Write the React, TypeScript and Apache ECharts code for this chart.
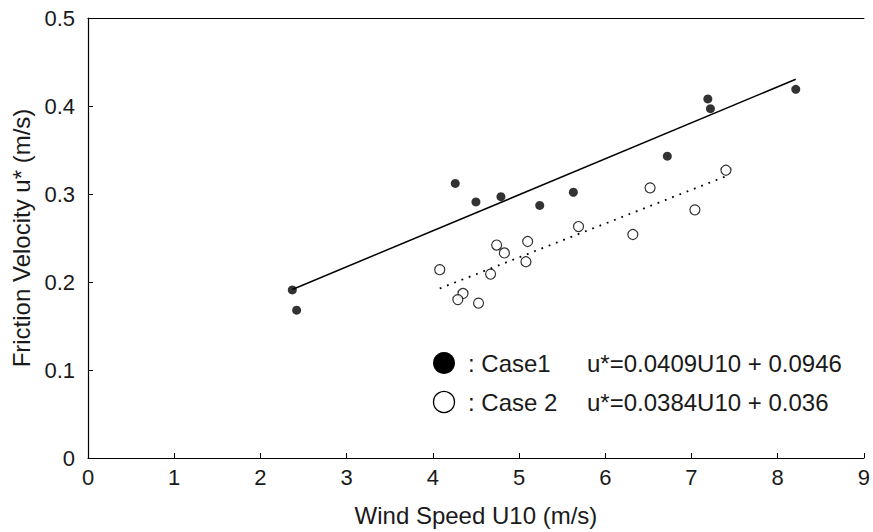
import React, { useEffect, useRef } from "react";
import * as echarts from "echarts";

const xTicks = [0, 1, 2, 3, 4, 5, 6, 7, 8, 9];
const yTicks = [0, 0.1, 0.2, 0.3, 0.4, 0.5];

const case1U10 = [2.37, 2.42, 4.26, 4.5, 4.79, 5.24, 5.63, 6.72, 7.19, 7.22, 8.21];
const case1Ustar = [0.191, 0.168, 0.312, 0.291, 0.297, 0.287, 0.302, 0.343, 0.408, 0.397, 0.419];

const case2U10 = [4.08, 4.35, 4.29, 4.53, 4.67, 4.74, 4.83, 5.08, 5.1, 5.69, 6.32, 6.52, 7.04, 7.4];
const case2Ustar = [0.214, 0.187, 0.18, 0.176, 0.209, 0.242, 0.233, 0.223, 0.246, 0.263, 0.254, 0.307, 0.282, 0.327];

const fitSlope = [0.0409, 0.0384];
const fitIntercept = [0.0946, 0.036];
const legendNames = [": Case1", ": Case 2"];
const legendEquations = ["u*=0.0409U10 + 0.0946", "u*=0.0384U10 + 0.036"];

const FONT = "'Liberation Sans', Arial, sans-serif";

function fitLine(xs: number[], k: number, b: number) {
  const lo = Math.min(...xs);
  const hi = Math.max(...xs);
  return [
    [lo, k * lo + b],
    [hi, k * hi + b],
  ];
}

export default function App() {
  const ref = useRef<HTMLDivElement>(null);
  useEffect(() => {
    if (!ref.current) return;
    const chart = echarts.init(ref.current, null, { renderer: "svg" });
    const c1 = case1U10.map((x, i) => [x, case1Ustar[i]]);
    const c2 = case2U10.map((x, i) => [x, case2Ustar[i]]);
    chart.setOption({
      animation: false,
      backgroundColor: "#ffffff",
      grid: { left: 88, right: 1, top: 18, bottom: 69, containLabel: false },
      xAxis: [
        {
          type: "value",
          min: xTicks[0],
          max: xTicks[xTicks.length - 1],
          interval: 1,
          name: "Wind Speed U10 (m/s)",
          nameLocation: "middle",
          nameGap: 45,
          nameTextStyle: { fontFamily: FONT, fontSize: 24, color: "#1a1a1a" },
          axisLine: { show: true, lineStyle: { color: "#000", width: 1.2 } },
          axisTick: { show: true, inside: true, length: 5, lineStyle: { color: "#000" } },
          axisLabel: { fontFamily: FONT, fontSize: 22, color: "#1a1a1a", margin: 8 },
          splitLine: { show: false },
        },
        {
          type: "value",
          position: "top",
          min: xTicks[0],
          max: xTicks[xTicks.length - 1],
          interval: 1,
          axisLine: { show: true, lineStyle: { color: "#000", width: 1.2 } },
          axisTick: { show: false },
          axisLabel: { show: false },
          splitLine: { show: false },
        },
      ],
      yAxis: {
        type: "value",
        min: yTicks[0],
        max: yTicks[yTicks.length - 1],
        interval: 0.1,
        name: "Friction Velocity u* (m/s)",
        nameLocation: "middle",
        nameGap: 55,
        nameTextStyle: { fontFamily: FONT, fontSize: 24, color: "#1a1a1a" },
        axisLine: { show: true, lineStyle: { color: "#000", width: 1.2 } },
        axisTick: { show: true, inside: true, length: 5, lineStyle: { color: "#000" } },
        axisLabel: { fontFamily: FONT, fontSize: 22, color: "#1a1a1a", margin: 13 },
        splitLine: { show: false },
      },
      series: [
        {
          type: "line",
          data: fitLine(case1U10, fitSlope[0], fitIntercept[0]),
          symbol: "none",
          lineStyle: { color: "#000", width: 1.5, type: "solid" },
          z: 2,
        },
        {
          type: "line",
          data: fitLine(case2U10, fitSlope[1], fitIntercept[1]),
          symbol: "none",
          lineStyle: { color: "#000", width: 1.8, type: [1.8, 6] },
          z: 2,
        },
        {
          type: "scatter",
          data: c1,
          symbol: "circle",
          symbolSize: 9,
          itemStyle: { color: "#000" },
          z: 3,
        },
        {
          type: "scatter",
          data: c2,
          symbol: "circle",
          symbolSize: 10,
          itemStyle: { color: "#fff", borderColor: "#000", borderWidth: 1.2 },
          z: 3,
        },
      ],
      graphic: [
        {
          type: "circle",
          shape: { cx: 444, cy: 363, r: 11 },
          style: { fill: "#000" },
        },
        {
          type: "circle",
          shape: { cx: 444, cy: 402, r: 10.5 },
          style: { fill: "#fff", stroke: "#000", lineWidth: 1.3 },
        },
        ...legendNames.map((t, i) => ({
          type: "text",
          x: 468,
          y: 363 + i * 39,
          style: {
            text: t,
            fontFamily: FONT,
            fontSize: 24,
            fill: "#1a1a1a",
            verticalAlign: "middle",
            align: "left",
          },
        })),
        ...legendEquations.map((t, i) => ({
          type: "text",
          x: 587,
          y: 363 + i * 39,
          style: {
            text: t,
            fontFamily: FONT,
            fontSize: 24,
            fill: "#1a1a1a",
            verticalAlign: "middle",
            align: "left",
          },
        })),
      ],
    });
    return () => chart.dispose();
  }, []);
  return (
    <div
      ref={ref}
      style={{ position: "fixed", left: 0, top: 0, width: 873, height: 532 }}
    />
  );
}
